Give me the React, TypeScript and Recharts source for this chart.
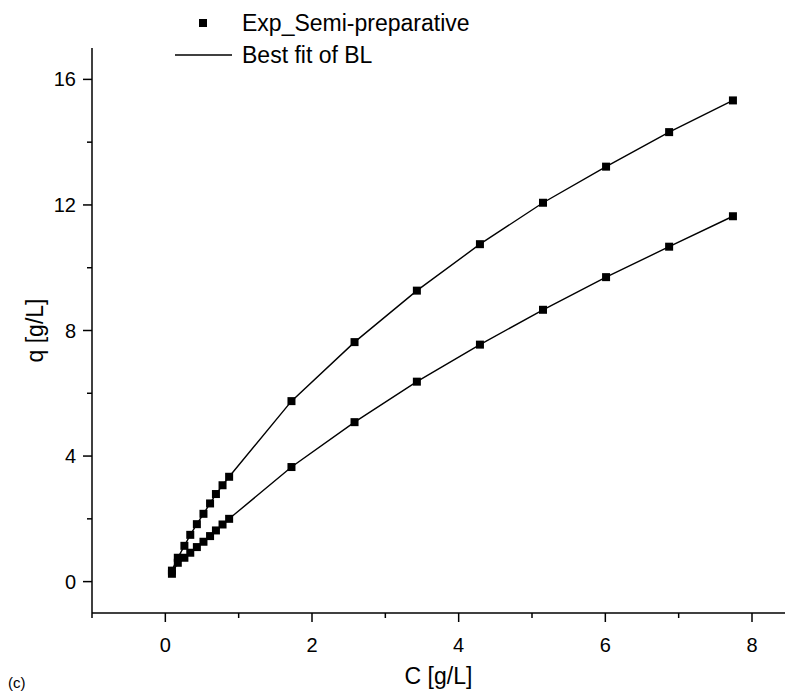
import React from 'react'
import { LineChart, Line, XAxis, YAxis } from 'recharts'

// concentrations (same for both runs)
const cValues = [0.09, 0.17, 0.26, 0.34, 0.43, 0.52, 0.61, 0.69, 0.78, 0.87, 1.72, 2.58, 3.43, 4.29, 5.15, 6.01, 6.87, 7.74]
const qUpper = [0.35, 0.76, 1.14, 1.49, 1.83, 2.16, 2.49, 2.79, 3.07, 3.34, 5.75, 7.63, 9.27, 10.75, 12.07, 13.22, 14.32, 15.33]
const qLower = [0.25, 0.6, 0.76, 0.92, 1.1, 1.27, 1.45, 1.63, 1.82, 2.0, 3.65, 5.08, 6.37, 7.55, 8.66, 9.7, 10.67, 11.64]

const xTicks = [-1, 0, 1, 2, 3, 4, 5, 6, 7, 8]
const yTicks = [0, 2, 4, 6, 8, 10, 12, 14, 16]

const FONT = '"Liberation Sans", Arial, sans-serif'

const upperData = cValues.map((c, i) => ({ c, q: qUpper[i] }))
const lowerData = cValues.map((c, i) => ({ c, q: qLower[i] }))

const SquareDot = (p: any) => (
  <rect key={p.index} x={p.cx - 4} y={p.cy - 4} width={8} height={8} fill="#000" />
)

const XTick = ({ x, y, payload }: any) => {
  const v = payload.value
  const major = v >= 0 && v % 2 === 0
  return (
    <g>
      <line x1={x} x2={x} y1={y} y2={y + (major ? 9 : 5)} stroke="#000" strokeWidth={1.5} />
      {major && (
        <text x={x} y={y + 39} textAnchor="middle" fontSize={20} fontFamily={FONT} fill="#000">
          {v}
        </text>
      )}
    </g>
  )
}

const YTick = ({ x, y, payload }: any) => {
  const v = payload.value
  const major = v % 4 === 0
  return (
    <g>
      <line x1={x - (major ? 9 : 5)} x2={x} y1={y} y2={y} stroke="#000" strokeWidth={1.5} />
      {major && (
        <text x={x - 16} y={y + 7} textAnchor="end" fontSize={20} fontFamily={FONT} fill="#000">
          {v}
        </text>
      )}
    </g>
  )
}

export default function App() {
  return (
    <div style={{ position: 'absolute', left: 0, top: 0, width: 785, height: 694, background: '#fff' }}>
      <LineChart width={785} height={694} margin={{ top: 48, right: 0, bottom: 0, left: 0 }}>
        <XAxis
          dataKey="c"
          type="number"
          domain={[-1, 8.45]}
          ticks={xTicks}
          allowDataOverflow
          height={81}
          tickSize={0}
          tickMargin={0}
          tick={<XTick />}
          axisLine={{ stroke: '#000', strokeWidth: 1.5 }}
          tickLine={false}
          label={{ value: 'C [g/L]', position: 'insideBottom', offset: 10, fontSize: 23, fontFamily: FONT, fill: '#000' }}
        />
        <YAxis
          dataKey="q"
          type="number"
          domain={[-1, 17]}
          ticks={yTicks}
          allowDataOverflow
          width={92}
          tickSize={0}
          tickMargin={0}
          tick={<YTick />}
          axisLine={{ stroke: '#000', strokeWidth: 1.5 }}
          tickLine={false}
          label={{
            value: 'q [g/L]',
            angle: -90,
            position: 'insideLeft',
            offset: 35,
            fontSize: 23,
            fontFamily: FONT,
            fill: '#000',
            style: { textAnchor: 'middle' },
          }}
        />
        <Line
          data={upperData}
          dataKey="q"
          type="linear"
          stroke="#000"
          strokeWidth={1.4}
          dot={SquareDot}
          activeDot={false}
          isAnimationActive={false}
        />
        <Line
          data={lowerData}
          dataKey="q"
          type="linear"
          stroke="#000"
          strokeWidth={1.4}
          dot={SquareDot}
          activeDot={false}
          isAnimationActive={false}
        />
      </LineChart>
      <svg
        width={785}
        height={694}
        style={{ position: 'absolute', left: 0, top: 0, pointerEvents: 'none' }}
      >
        <rect x={199} y={19} width={8} height={8} fill="#000" />
        <text x={242} y={31} fontSize={23} fontFamily={FONT} fill="#000">
          Exp_Semi-preparative
        </text>
        <line x1={175} x2={232} y1={55} y2={55} stroke="#000" strokeWidth={1.4} />
        <text x={242} y={63} fontSize={23} fontFamily={FONT} fill="#000">
          Best fit of BL
        </text>
        <text x={8} y={688} fontSize={15} fontFamily={FONT} fill="#000">
          (c)
        </text>
      </svg>
    </div>
  )
}
